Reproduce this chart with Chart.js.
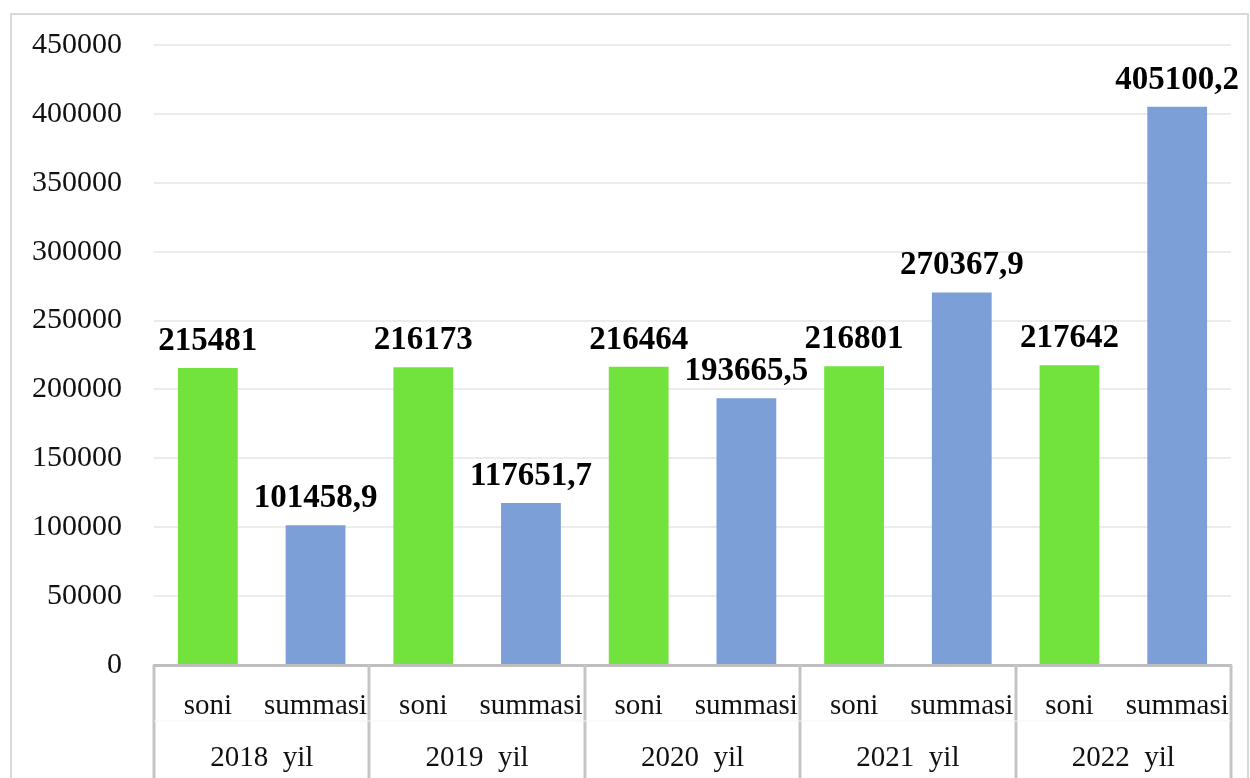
<!DOCTYPE html>
<html><head><meta charset="utf-8">
<script src="https://cdn.jsdelivr.net/npm/chart.js@4"></script>
<style>
html,body{margin:0;padding:0;background:#fff;overflow:hidden;}
#frame{position:absolute;left:10px;top:13px;width:1239px;height:800px;border:2px solid #d9d9d9;box-sizing:border-box;}
#wrap{position:absolute;left:12px;top:15px;width:1233px;height:763px;}
</style></head>
<body>
<div id="frame"></div>
<div id="wrap"><canvas id="c"></canvas></div>
<script>
const years = ['2018  yil','2019  yil','2020  yil','2021  yil','2022  yil'];
const subLabels = ['soni','summasi'];
const soni = [215481, 216173, 216464, 216801, 217642];
const summasi = [101458.9, 117651.7, 193665.5, 270367.9, 405100.2];
const yTicks = [0,50000,100000,150000,200000,250000,300000,350000,400000,450000];

const GREEN = 'rgb(114,227,61)';
const BLUE = 'rgb(123,159,214)';
const labels = [], values = [], colors = [];
years.forEach((y,i)=>{
  labels.push(subLabels[0]); values.push(soni[i]); colors.push(GREEN);
  labels.push(subLabels[1]); values.push(summasi[i]); colors.push(BLUE);
});
const FONT = 'Liberation Serif';

const deco = {
  id:'deco',
  afterDatasetsDraw(chart){
    const ctx = chart.ctx;
    const meta = chart.getDatasetMeta(0);
    ctx.save();
    ctx.font = 'bold 33px "'+FONT+'"';
    ctx.fillStyle = '#000';
    ctx.textAlign = 'center';
    ctx.textBaseline = 'alphabetic';
    meta.data.forEach((bar,i)=>{
      const v = values[i];
      ctx.fillText(String(v).replace('.',','), bar.x, bar.y - 18);
    });
    ctx.restore();
  },
  afterDraw(chart){
    const ctx = chart.ctx;
    const x2 = chart.scales.x2;
    const x = chart.scales.x;
    const n = years.length;
    const w = (x2.right - x2.left)/n;
    ctx.save();
    ctx.strokeStyle = '#c4c4c4';
    ctx.lineWidth = 3;
    for(let i=0;i<=n;i++){
      const px = Math.round(x2.left + i*w);
      ctx.beginPath(); ctx.moveTo(px, x.top); ctx.lineTo(px, chart.height); ctx.stroke();
    }
    ctx.strokeStyle = '#f4f4f4';
    ctx.lineWidth = 1;
    ctx.beginPath(); ctx.moveTo(x.left, x2.top); ctx.lineTo(x.right, x2.top); ctx.stroke();
    ctx.restore();
  }
};

new Chart(document.getElementById('c'), {
  type:'bar',
  data:{ labels, datasets:[{ data: values, backgroundColor: colors, barPercentage: 0.555, categoryPercentage: 1 }]},
  options:{
    responsive:true, maintainAspectRatio:false, animation:false,
    layout:{ padding:{ top:30, right:5, left:0, bottom:0 } },
    plugins:{ legend:{display:false}, tooltip:{enabled:false} },
    scales:{
      x:{
        position:'bottom',
        grid:{ display:false },
        border:{ display:true, color:'#bfbfbf', width:3 },
        ticks:{ font:{family:FONT,size:29}, color:'#111', padding:16, maxRotation:0, autoSkip:false },
        afterFit(s){ s.height = 56; }
      },
      x2:{
        type:'category', labels: years, position:'bottom',
        grid:{ display:false }, border:{display:false},
        ticks:{ font:{family:FONT,size:29}, color:'#111', padding:12, maxRotation:0 },
        afterFit(s){ s.height = 57; }
      },
      y:{
        min:0, max:450000,
        afterBuildTicks(s){ s.ticks = yTicks.map(v=>({value:v})); },
        grid:{ color:'#ececec', lineWidth:2, drawTicks:false },
        border:{ display:false },
        ticks:{ font:{family:FONT,size:30}, color:'#111', padding:32, callback:(v)=>String(v) },
        afterFit(s){ s.width = 142; s.paddingTop = 0; s.paddingBottom = 0; }
      }
    }
  },
  plugins:[deco]
});
</script>
</body></html>
